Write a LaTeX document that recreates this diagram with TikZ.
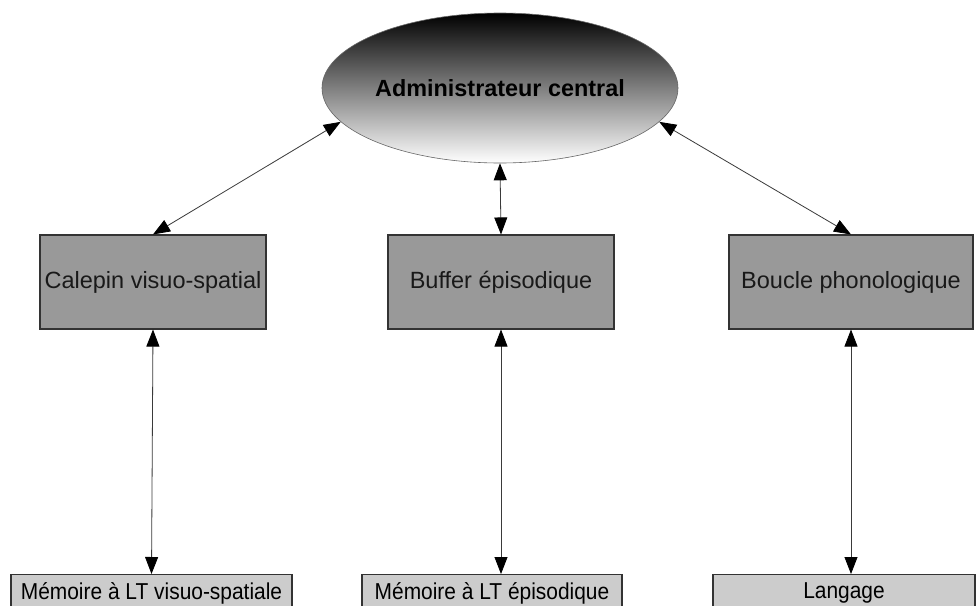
\documentclass[tikz,border=0pt]{standalone}
\usepackage{fontspec}
\setmainfont{Liberation Sans}
\usetikzlibrary{shapes.geometric,arrows.meta}
\definecolor{boxgray}{HTML}{999999}
\definecolor{lowgray}{HTML}{CCCCCC}
\definecolor{edgegray}{HTML}{333333}
\definecolor{linegray}{HTML}{3A3A3A}
\tikzset{
  midbox/.style={draw=edgegray, line width=1.1pt, fill=boxgray, minimum height=94pt, inner sep=0pt,
    font=\fontsize{23.5}{28}\selectfont, text=black!90},
  lowbox/.style={draw=edgegray, line width=1.1pt, fill=lowgray, minimum height=44pt, inner sep=0pt, anchor=north},
  admin/.style={ellipse, draw=black!60, line width=0.6pt, top color=black, bottom color=white,
    minimum width=356pt, minimum height=150pt, inner sep=0pt,
    font=\fontsize{23.4}{28}\selectfont\bfseries},
  tipshape/.tip={Triangle[length=17pt,width=13pt,fill=black,color=black]},
  link/.style={draw=linegray, line width=0.8pt, tipshape-tipshape}
}
\newcommand{\lowtext}[1]{\scalebox{0.91}[1]{\fontsize{23}{27}\selectfont #1}}
\begin{document}
\begin{tikzpicture}[x=1pt,y=-1pt]
\useasboundingbox (0,0) rectangle (977,605);
\clip (0,0) rectangle (977,605);
\fill[white] (0,0) rectangle (977,605);

\node[admin] (e) at (500,88) {Administrateur central};

\node[midbox, minimum width=226pt] (b1) at (153,282) {Calepin visuo-spatial};
\node[midbox, minimum width=226pt] (b2) at (501,282) {Buffer épisodique};
\node[midbox, minimum width=244pt] (b3) at (851,282) {Boucle phonologique};

\node[lowbox, minimum width=281pt] (m1) at (151.5,574) {};
\node[lowbox, minimum width=260pt] (m2) at (492,574) {};
\node[lowbox, minimum width=262pt] (m3) at (844,574) {};
\node (t1) at (151.5,593) {\lowtext{Mémoire à LT visuo-spatiale}};
\node (t2) at (492,593) {\lowtext{Mémoire à LT épisodique}};
\node (t3) at (844,593) {\lowtext{Langage}};

\draw[link] (b1.north) -- (e.192);
\draw[link] (b3.north) -- (e.348);
\draw[link] (b2.north) -- (e.south);
\draw[link] (b1.south) -- (m1.north);
\draw[link] (b2.south) -- (b2.south |- m2.north);
\draw[link] (b3.south) -- (b3.south |- m3.north);
\end{tikzpicture}
\end{document}
